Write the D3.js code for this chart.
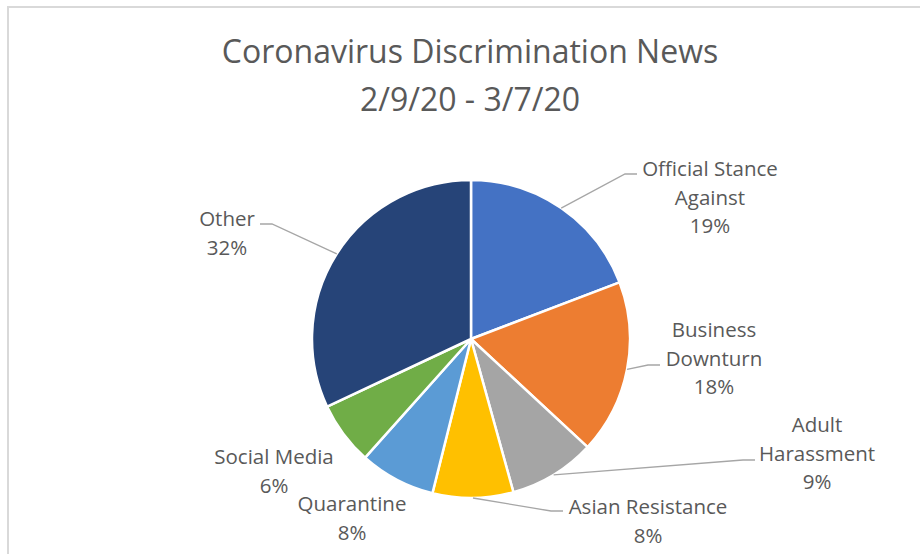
<!DOCTYPE html>
<html lang="en">
<head>
    <meta charset="UTF-8">
    <title>Coronavirus Discrimination News</title>
    <style>
        body { margin: 0; background: #fff; }
        text { font-family: "Open Sans", sans-serif; fill: #595959; }
    </style>
</head>
<body>
<script src="https://d3js.org/d3.v7.min.js"></script>
<script>
    // data (percent of stories)
    const categories = ["Official Stance Against", "Business Downturn", "Adult Harassment",
        "Asian Resistance", "Quarantine", "Social Media", "Other"];
    const values = [19.2, 17.7, 8.8, 8.2, 7.7, 6.4, 32.0];
    const colors = ["#4472C4", "#ED7D31", "#A5A5A5", "#FFC000", "#5B9BD5", "#70AD47", "#264478"];
    const titleLines = ["Coronavirus Discrimination News", "2/9/20 - 3/7/20"];

    // label layout: text lines, centre x, first line y, leader end (label side) and direction
    const labelLayout = [
        {lines: ["Official Stance", "Against"], x: 710, y: 168, end: [637, 174], dir: -1},
        {lines: ["Business", "Downturn"], x: 714, y: 329, end: [660, 365], dir: -1},
        {lines: ["Adult", "Harassment"], x: 817, y: 424, end: [755, 460], dir: -1},
        {lines: ["Asian Resistance"], x: 648, y: 506, end: [563, 511], dir: -1},
        {lines: ["Quarantine"], x: 352, y: 503, end: null},
        {lines: ["Social Media"], x: 274, y: 456, end: null},
        {lines: ["Other"], x: 227, y: 218, end: [260, 224], dir: 1}
    ];

    const width = 920, height = 554;
    const cx = 471, cy = 339, radius = 159;
    const lineGap = 28.7;

    const svg = d3.select("body").append("svg")
        .attr("width", width)
        .attr("height", height);

    // chart frame
    svg.append("path")
        .attr("d", "M8," + height + "V7H" + width)
        .attr("fill", "none")
        .attr("stroke", "#D9D9D9")
        .attr("stroke-width", 2);

    // title
    svg.selectAll(".title")
        .data(titleLines)
        .enter()
        .append("text")
        .attr("class", "title")
        .attr("x", 470)
        .attr("y", (d, i) => 50 + i * 48)
        .attr("text-anchor", "middle")
        .attr("dominant-baseline", "central")
        .style("font-size", "32px")
        .text(d => d);

    const pie = d3.pie().sort(null).value(d => d);
    const arcs = pie(values);
    const arc = d3.arc().innerRadius(0).outerRadius(radius);

    const g = svg.append("g")
        .attr("transform", "translate(" + cx + "," + cy + ")");

    g.selectAll("path.slice")
        .data(arcs)
        .enter()
        .append("path")
        .attr("class", "slice")
        .attr("d", arc)
        .attr("fill", (d, i) => colors[i])
        .attr("stroke", "#fff")
        .attr("stroke-width", 2.5)
        .attr("stroke-linejoin", "round");

    // leader lines
    arcs.forEach((a, i) => {
        const lay = labelLayout[i];
        if (!lay.end) return;
        const mid = (a.startAngle + a.endAngle) / 2;
        const sx = cx + radius * Math.sin(mid);
        const sy = cy - radius * Math.cos(mid);
        const ex = lay.end[0], ey = lay.end[1];
        svg.append("path")
            .attr("d", d3.line()([[sx, sy], [ex + lay.dir * 12, ey], [ex, ey]]))
            .attr("fill", "none")
            .attr("stroke", "#A6A6A6")
            .attr("stroke-width", 1.3);
    });

    // labels
    arcs.forEach((a, i) => {
        const lay = labelLayout[i];
        const lines = lay.lines.concat([Math.round(values[i]) + "%"]);
        const t = svg.append("text")
            .attr("text-anchor", "middle")
            .style("font-size", "20.5px");
        lines.forEach((l, j) => {
            t.append("tspan")
                .attr("x", lay.x)
                .attr("y", lay.y + j * lineGap)
                .attr("dominant-baseline", "central")
                .text(l);
        });
    });
</script>
</body>
</html>
